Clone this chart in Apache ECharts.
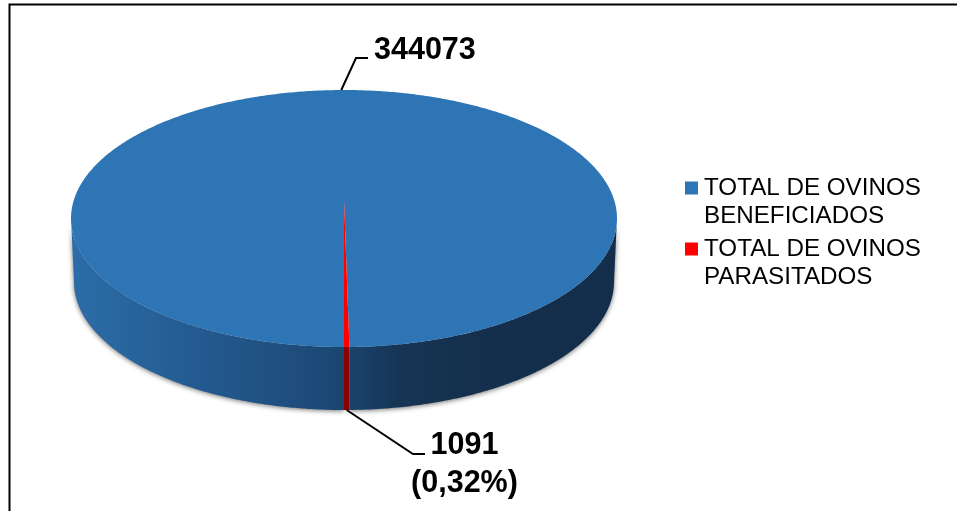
<!DOCTYPE html>
<html><head><meta charset="utf-8">
<style>html,body{margin:0;padding:0;background:#fff}#c{width:957px;height:511px}</style>
<script src="https://cdn.jsdelivr.net/npm/echarts@6/dist/echarts.min.js"></script>
</head><body><div id="c"></div>
<script>
const categories = ['TOTAL DE OVINOS\nBENEFICIADOS', 'TOTAL DE OVINOS\nPARASITADOS'];
const values = [344073, 1091];
const topColors = ['#2E75B6', '#FF0000'];
const startAngle = 180;

const TOP = {cx: 344, cy: 218.5, rx: 273, ry: 128.5, ax: 344, ay: 200};
const BOT = {cx: 344, cy: 282, rx: 270, ry: 128};
const sideBlue = {type:'linear', x:70, y:0, x2:617, y2:0, global:true, colorStops:[
  {offset:0, color:'#2C6DA8'},{offset:.24, color:'#235A8F'},{offset:.4, color:'#1F4E7E'},
  {offset:.5, color:'#1A4570'},{offset:.6, color:'#163555'},{offset:.72, color:'#14304E'},{offset:1, color:'#132D4A'}]};
const sideColors = [sideBlue, '#8B0000'];
const total = values.reduce((a,b)=>a+b,0);
const pt = (e,deg)=>{const t=deg*Math.PI/180;return [e.cx+e.rx*Math.sin(t), e.cy-e.ry*Math.cos(t)];};
const arc = (e,a,b)=>{const n=Math.max(2,Math.ceil(Math.abs(b-a)*2));const r=[];for(let i=0;i<=n;i++)r.push(pt(e,a+(b-a)*i/n));return r;};

// leader elbow and label anchors, per slice
const leaders = [
  {knee:[356,58], end:[368,58], tx:374, ty:51, align:'left'},
  {knee:[413,454], end:[425,454], tx:464.5, ty:465, align:'center'}
];

let cum = startAngle;
const ranges = values.map(v=>{const a=cum; cum+=v/total*360; return [a,cum];});

function renderSlice(idx){
  return function(params, api){
    const a=api.value(0), b=api.value(1), val=api.value(2);
    const ch=[];
    [[90,270],[450,630]].forEach(f=>{
      const s=Math.max(a,f[0]), e=Math.min(b,f[1]);
      if(e>s){
        ch.push({type:'polygon', shape:{points:arc(TOP,s,e).concat(arc(BOT,e,s))},
          style: idx===0 ? {fill:sideColors[idx], shadowBlur:5, shadowColor:'rgba(0,0,0,0.55)', shadowOffsetX:0, shadowOffsetY:1}
                         : {fill:sideColors[idx]}});
      }
    });
    ch.push({type:'polygon', shape:{points:[[TOP.ax,TOP.ay]].concat(arc(TOP,a,b))}, style:{fill:topColors[idx]}});
    const mid=(a+b)/2, L=leaders[idx];
    const anchor = (mid%360>90 && mid%360<270) ? pt(BOT,mid) : pt(TOP,mid);
    ch.push({type:'polyline', shape:{points:[anchor,L.knee,L.end]}, style:{stroke:'#000',lineWidth:2,fill:null}});
    const pct=(val/total*100).toFixed(2).replace('.',',');
    const txt = idx===0 ? String(val) : val+'\n('+pct+'%)';
    ch.push({type:'text', style:{text:txt, x:L.tx, y:L.ty, align:L.align, verticalAlign:'middle',
      font:'bold 30.5px "Liberation Sans"', lineHeight:38, fill:'#000'}, z2:10});
    return {type:'group', children:ch};
  };
}

const chart = echarts.init(document.getElementById('c'), null, {renderer:'canvas'});
const legendBase = {orient:'vertical', icon:'rect', itemWidth:13, itemHeight:13, itemGap:0, padding:0,
  selectedMode:false, textStyle:{fontFamily:'Liberation Sans', fontSize:24.2, lineHeight:28, color:'#000', padding:[0,0,0,1]},
  formatter:n=>'\n'+n};
chart.setOption({
  animation:false,
  backgroundColor:'#fff',
  color:topColors,
  tooltip:{show:false},
  legend:[
    Object.assign({}, legendBase, {data:[categories[0]], left:685, top:146}),
    Object.assign({}, legendBase, {data:[categories[1]], left:685, top:207})
  ],
  graphic:[{type:'rect', shape:{x:9.5,y:4.5,width:1100,height:700}, style:{fill:null,stroke:'#000',lineWidth:2}, silent:true, z:-1}],
  series:categories.map((n,i)=>({
    type:'custom', name:n, coordinateSystem:'none', silent:true,
    itemStyle:{color:topColors[i]},
    renderItem:renderSlice(i),
    data:[[ranges[i][0],ranges[i][1],values[i]]]
  }))
});
</script></body></html>
